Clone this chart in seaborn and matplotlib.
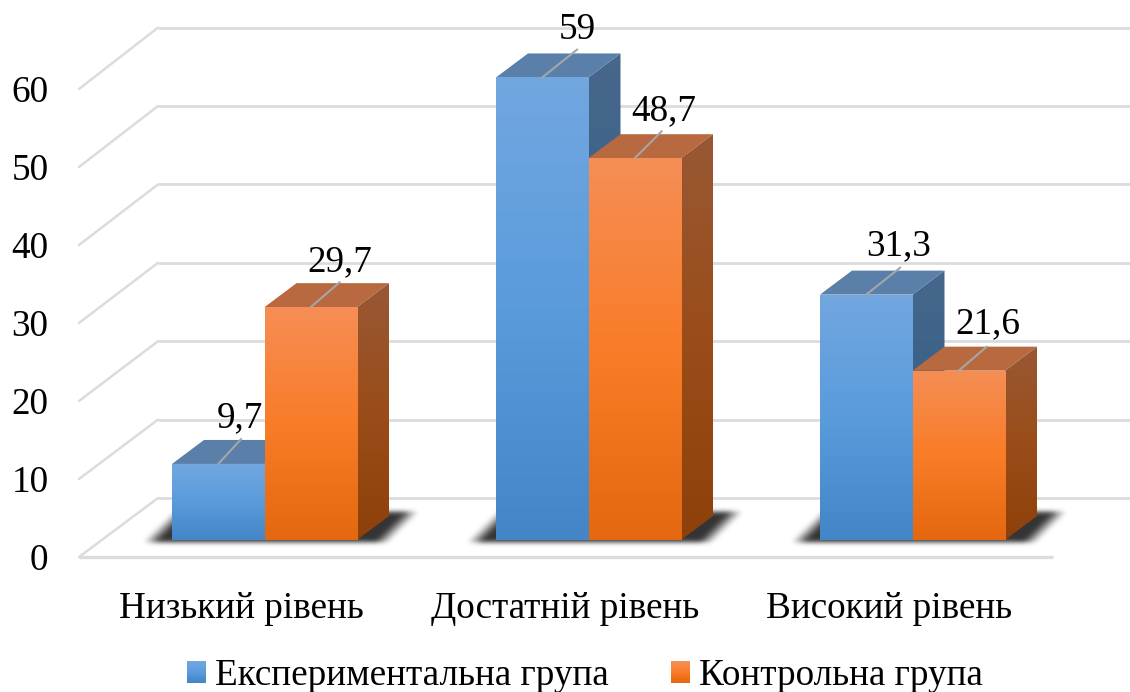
import numpy as np
import pandas as pd
import seaborn as sns
import matplotlib
matplotlib.use("Agg")
import matplotlib.pyplot as plt
from matplotlib.colors import to_rgb
from matplotlib.legend_handler import HandlerBase
from matplotlib.patches import Patch, Polygon, Rectangle
from matplotlib.transforms import ScaledTranslation

# Survey results, percent of respondents at each level
categories = ["Низький рівень", "Достатній рівень", "Високий рівень"]
experimental = [9.7, 59, 31.3]
control = [29.7, 48.7, 21.6]
value_labels_experimental = ["9,7", "59", "31,3"]
value_labels_control = ["29,7", "48,7", "21,6"]
series_names = ["Експериментальна група", "Контрольна група"]
y_ticks = [0, 10, 20, 30, 40, 50, 60]

# Canvas geometry, in pixels
WIDTH, HEIGHT, DPI = 1130, 692, 100
PX_PER_CAT, PX_PER_UNIT = 324.0, 7.84
FRONT_PX_PER_UNIT = 7.8
FIRST_CAT_PX, BASELINE_PX = 264.5, 540.0
AXES_LEFT_PX, AXES_BOTTOM_PX = 79.0, 557.0
FLOOR_BACK_PX, WALL_LEFT_PX, FLOOR_RIGHT_PX = 498.0, 158.0, 1053.0
DEPTH_X_PX, DEPTH_Y_PX = 32.0, 24.0
FONT_SIZE = 26.7

# Leader-line ends and label baselines relative to each bar's top centre (pixels)
leader_exp = [(23, 25), (35, 28), (34, 27)]
leader_ctl = [(29, 25), (27, 27), (28, 24)]
label_exp = [(22, 37), (35, 38), (32, 39)]
label_ctl = [(29, 36), (29, 38), (29, 37)]


def x_data(px):
    return (px - FIRST_CAT_PX) / PX_PER_CAT


def y_data(px):
    return (BASELINE_PX - px) / PX_PER_UNIT


def ramp(stops, n=256):
    """Vertical colour ramp, first stop on top."""
    stops = np.array([to_rgb(c) for c in stops])
    pos = np.linspace(0, 1, len(stops))
    t = np.linspace(0, 1, n)
    return np.stack([np.interp(t, pos, stops[:, i]) for i in range(3)], axis=1)[:, None, :]


def blur(arr, sigma):
    radius = int(3 * sigma)
    kernel = np.exp(-0.5 * (np.arange(-radius, radius + 1) / sigma) ** 2)
    kernel /= kernel.sum()
    arr = np.apply_along_axis(lambda r: np.convolve(r, kernel, mode="same"), 0, arr)
    return np.apply_along_axis(lambda r: np.convolve(r, kernel, mode="same"), 1, arr)


sns.set_theme(style="white")
plt.rcParams["font.family"] = ["Liberation Serif", "DejaVu Serif"]
plt.rcParams["text.color"] = "black"

frame = pd.DataFrame({
    "category": categories * 2,
    "value": experimental + control,
    "series": [series_names[0]] * 3 + [series_names[1]] * 3,
})

fig = plt.figure(figsize=(WIDTH / DPI, HEIGHT / DPI), dpi=DPI)
ax = fig.add_axes([
    AXES_LEFT_PX / WIDTH,
    1 - AXES_BOTTOM_PX / HEIGHT,
    1 - AXES_LEFT_PX / WIDTH,
    AXES_BOTTOM_PX / HEIGHT,
])

front_stops = [
    ["#72A7E0", "#5A9BDC", "#4485C7"],
    ["#F58E55", "#F97C28", "#E4680F"],
]
top_colors = ["#5A80AA", "#B8693F"]

sns.barplot(
    data=frame, x="category", y="value", hue="series", order=categories,
    hue_order=series_names, palette=["#5A9BDC", "#F97C28"], width=185 / PX_PER_CAT,
    gap=0, saturation=1, legend=False, ax=ax, zorder=4,
)

xlim = (x_data(AXES_LEFT_PX), x_data(WIDTH))
ylim = (y_data(AXES_BOTTOM_PX), y_data(0))
depth_x = DEPTH_X_PX / PX_PER_CAT
depth_y = DEPTH_Y_PX / PX_PER_UNIT
grid_color = "#DCDCDC"

# Walls and floor of the chart box
floor_back = y_data(FLOOR_BACK_PX)
floor_front = y_data(AXES_BOTTOM_PX)
wall_left = x_data(WALL_LEFT_PX)
front_scale = FRONT_PX_PER_UNIT / PX_PER_UNIT
for tick in y_ticks:
    ax.plot([wall_left, xlim[1]], [floor_back + tick] * 2, color=grid_color, lw=2,
            solid_capstyle="butt", zorder=1)
    ax.plot([xlim[0], wall_left], [floor_front + tick * front_scale, floor_back + tick],
            color=grid_color, lw=1.8, zorder=1, clip_on=False)
ax.plot([xlim[0], x_data(FLOOR_RIGHT_PX)], [floor_front] * 2, color=grid_color, lw=2.4,
        solid_capstyle="butt", zorder=1, clip_on=False)

# Soft shadows cast on the floor behind each pair of bars
for i in range(len(categories)):
    center_px = FIRST_CAT_PX + i * PX_PER_CAT
    left, right = center_px - 92.5, center_px + 92.5
    x_px = np.arange(left - 60, right + 100)
    y_px = np.arange(490, 560)
    gx, gy = np.meshgrid(x_px, y_px)
    shear = (541 - gy) * 1.0
    # density falls off towards the outer ends of the shadow
    falloff = np.clip(np.minimum(gx - (left - 29 + shear), (right + 34 + shear) - gx) / 16, 0, 1)
    mask = falloff * (gy >= 512) * (gy <= 542)
    soft = blur(mask, 2.4)
    rgba = np.zeros(soft.shape + (4,))
    rgba[..., 3] = 0.8 * soft
    ax.imshow(rgba, extent=(x_data(x_px[0]), x_data(x_px[-1]), y_data(y_px[-1]), y_data(y_px[0])),
              origin="upper", aspect="auto", zorder=2, interpolation="bilinear")

# Give the seaborn bars depth: side and top faces plus gradient fills
for s, container in enumerate(ax.containers):
    front = ramp(front_stops[s])
    for bar in container:
        x0, w, h = bar.get_x(), bar.get_width(), bar.get_height()
        x1 = x0 + w
        z = 3 + 2 * s
        bar.set_zorder(z + 1)
        bar.set_edgecolor("none")
        side = Polygon([(x1, 0), (x1 + depth_x, depth_y), (x1 + depth_x, h + depth_y), (x1, h)],
                       closed=True, facecolor="none", edgecolor="none", zorder=z)
        ax.add_patch(side)
        side_img = ax.imshow(front * 0.62, extent=(x1, x1 + depth_x, 0, h + depth_y),
                             aspect="auto", origin="upper", zorder=z)
        side_img.set_clip_path(side)
        top = Polygon([(x0, h), (x0 + depth_x, h + depth_y), (x1 + depth_x, h + depth_y), (x1, h)],
                      closed=True, facecolor=top_colors[s], edgecolor="none", zorder=z)
        ax.add_patch(top)
        face_img = ax.imshow(front, extent=(x0, x1, 0, h), aspect="auto", origin="upper", zorder=z + 1)
        face_img.set_clip_path(bar)

# Value labels with their leader lines
series_labels = [value_labels_experimental, value_labels_control]
leaders = [leader_exp, leader_ctl]
label_offsets = [label_exp, label_ctl]
for s, container in enumerate(ax.containers):
    for bar, text, lead, off in zip(container, series_labels[s], leaders[s], label_offsets[s]):
        xy = (bar.get_x() + bar.get_width() / 2, bar.get_height())
        ax.annotate("", xy=xy, xytext=lead, textcoords="offset pixels",
                    arrowprops=dict(arrowstyle="-", color="#A6A6A6", lw=1.5,
                                    shrinkA=0, shrinkB=0), zorder=8)
        ax.annotate(text, xy=xy, xytext=off, textcoords="offset pixels", ha="center",
                    va="baseline", fontsize=FONT_SIZE, color="black", zorder=9)

ax.set_xlim(xlim)
ax.set_ylim(ylim)
ax.set_xlabel("")
ax.set_ylabel("")
ax.set_yticks(y_ticks)
ax.tick_params(axis="x", length=0, pad=25, labelsize=FONT_SIZE, labelcolor="black")
ax.tick_params(axis="y", length=0, pad=22, labelsize=FONT_SIZE, labelcolor="black")
for spine in ax.spines.values():
    spine.set_visible(False)
ax.patch.set_alpha(0)

# Axis numbers and names belong to the front edge of the box, ahead of the bar plane
for tick, label in zip(y_ticks, ax.get_yticklabels()):
    drop = (AXES_BOTTOM_PX - BASELINE_PX) + tick * (PX_PER_UNIT - FRONT_PX_PER_UNIT)
    label.set_transform(label.get_transform() + ScaledTranslation(0, -drop / DPI, fig.dpi_scale_trans))
for label in ax.get_xticklabels():
    label.set_transform(label.get_transform() + ScaledTranslation(-23 / DPI, 0, fig.dpi_scale_trans))


class GradientSwatch(HandlerBase):
    """Legend square filled with the same top-to-bottom ramp as the bars."""

    def __init__(self, stops):
        super().__init__()
        self.stops = stops

    def create_artists(self, legend, orig_handle, xdescent, ydescent, width, height, fontsize, trans):
        colors = ramp(self.stops, n=20)[:, 0, :]
        strip = height / len(colors)
        artists = []
        for k, color in enumerate(colors):
            artists.append(Rectangle((-xdescent, -ydescent + height - (k + 1) * strip), width, strip * 1.1,
                                     facecolor=color, edgecolor="none", transform=trans))
        return artists


handles = [Patch(label=name) for name in series_names]
ax.legend(
    handles=handles, ncol=2, frameon=False, fontsize=FONT_SIZE, labelcolor="black",
    loc="center", bbox_to_anchor=((585 - AXES_LEFT_PX) / (WIDTH - AXES_LEFT_PX), -(676 - AXES_BOTTOM_PX) / AXES_BOTTOM_PX),
    handlelength=0.51, handleheight=0.51, handletextpad=0.24, columnspacing=1.67,
    borderpad=0, handler_map={handles[0]: GradientSwatch(front_stops[0]),
                              handles[1]: GradientSwatch(front_stops[1])},
)

fig.savefig("out.png", dpi=DPI, facecolor="white")
